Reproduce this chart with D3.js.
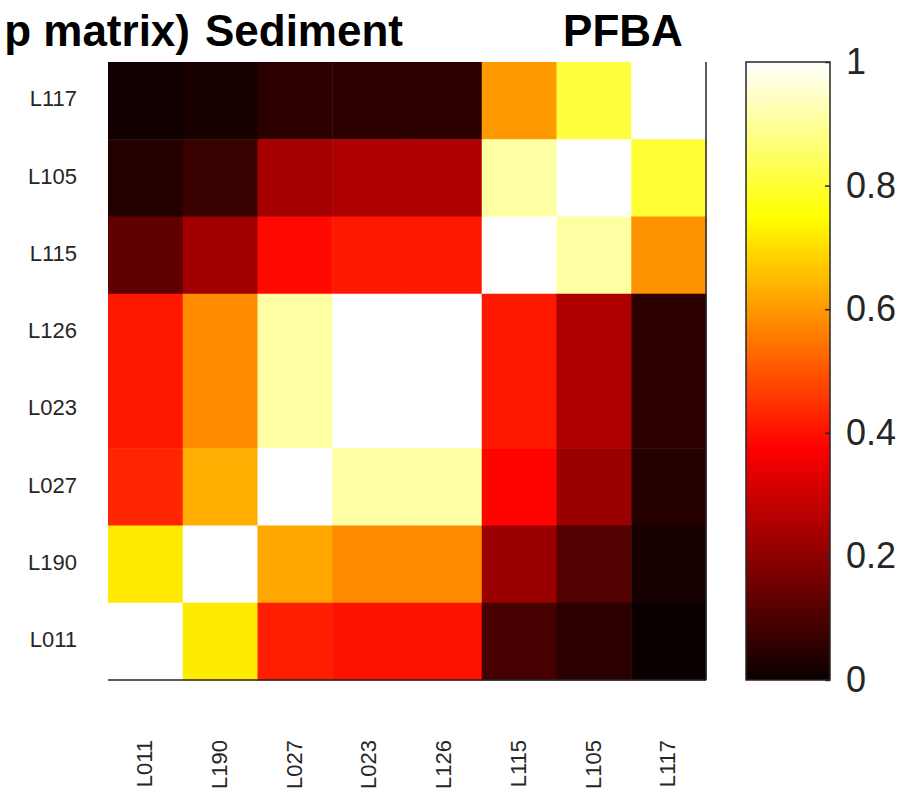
<!DOCTYPE html>
<html>
<head>
<meta charset="utf-8">
<script src="https://cdn.jsdelivr.net/npm/d3@7"></script>
<style>
  body { margin: 0; background: #fff; }
  svg { display: block; font-family: "Liberation Sans", Arial, sans-serif; }
</style>
</head>
<body>
<svg width="918" height="798"></svg>
<script>
// rows top to bottom, columns left to right
const rowLabels = ["L117", "L105", "L115", "L126", "L023", "L027", "L190", "L011"];
const colLabels = ["L011", "L190", "L027", "L023", "L126", "L115", "L105", "L117"];

const values = [
  [0.01, 0.02, 0.05, 0.05, 0.05, 0.60, 0.81, 1.00],
  [0.04, 0.07, 0.24, 0.25, 0.25, 0.91, 1.00, 0.80],
  [0.13, 0.23, 0.39, 0.41, 0.41, 1.00, 0.91, 0.59],
  [0.41, 0.58, 0.91, 1.00, 1.00, 0.41, 0.25, 0.05],
  [0.41, 0.58, 0.91, 1.00, 1.00, 0.41, 0.25, 0.05],
  [0.43, 0.63, 1.00, 0.91, 0.91, 0.38, 0.22, 0.04],
  [0.72, 1.00, 0.62, 0.58, 0.58, 0.22, 0.11, 0.02],
  [1.00, 0.72, 0.42, 0.40, 0.40, 0.09, 0.05, 0.00]
];

const cbTicks = [0, 0.2, 0.4, 0.6, 0.8, 1];

const svg = d3.select("svg");
const textColor = "#262626";

// matlab "hot" colormap, piecewise linear in rgb
const color = d3.scaleLinear()
    .domain([0, 0.375, 0.75, 1])
    .range(["#0b0000", "#ff0000", "#ffff00", "#ffffff"])
    .clamp(true);

const x = d3.scaleBand().domain(colLabels).range([108, 706]);
const y = d3.scaleBand().domain(rowLabels).range([62, 680]);

const cells = [];
values.forEach((row, i) => row.forEach((v, j) => {
    cells.push({ r: rowLabels[i], c: colLabels[j], v: v });
}));

svg.append("g")
    .selectAll("rect")
    .data(cells)
    .join("rect")
    .attr("x", d => x(d.c))
    .attr("y", d => y(d.r))
    .attr("width", x.bandwidth() + 0.5)
    .attr("height", y.bandwidth() + 0.5)
    .attr("fill", d => color(d.v));

// axis lines (bottom + right only)
svg.append("line")
    .attr("x1", 108).attr("x2", 706)
    .attr("y1", 680).attr("y2", 680)
    .attr("stroke", textColor).attr("stroke-width", 1.5);
svg.append("line")
    .attr("x1", 706).attr("x2", 706)
    .attr("y1", 62).attr("y2", 680)
    .attr("stroke", textColor).attr("stroke-width", 1.5);

// row labels
svg.append("g")
    .selectAll("text")
    .data(rowLabels)
    .join("text")
    .attr("x", 77)
    .attr("y", d => y(d) + y.bandwidth() / 2)
    .attr("text-anchor", "end")
    .attr("dominant-baseline", "middle")
    .attr("font-size", 22)
    .attr("fill", textColor)
    .text(d => d);

// column labels, rotated
svg.append("g")
    .selectAll("text")
    .data(colLabels)
    .join("text")
    .attr("transform", d => `translate(${x(d) + x.bandwidth() / 2 + 1},740) rotate(-90)`)
    .attr("text-anchor", "end")
    .attr("dominant-baseline", "middle")
    .attr("font-size", 22)
    .attr("fill", textColor)
    .text(d => d);

// titles (left one is cut off at the page edge in the original)
svg.append("text")
    .attr("x", 190).attr("y", 46)
    .attr("text-anchor", "end")
    .attr("font-size", 44)
    .attr("font-weight", "bold")
    .attr("fill", "#000")
    .text("p matrix)");
svg.append("text")
    .attr("x", 403).attr("y", 46)
    .attr("text-anchor", "end")
    .attr("font-size", 44)
    .attr("font-weight", "bold")
    .attr("fill", "#000")
    .text("Sediment");
svg.append("text")
    .attr("x", 623).attr("y", 46)
    .attr("text-anchor", "middle")
    .attr("font-size", 44)
    .attr("font-weight", "bold")
    .attr("fill", "#000")
    .text("PFBA");

// colorbar
const cb = { x0: 746, x1: 830 };
const cbScale = d3.scaleLinear().domain([0, 1]).range([680, 62]);

const grad = svg.append("defs").append("linearGradient")
    .attr("id", "hotgrad")
    .attr("x1", 0).attr("y1", 1).attr("x2", 0).attr("y2", 0);
grad.selectAll("stop")
    .data(d3.range(0, 1.0001, 0.025))
    .join("stop")
    .attr("offset", d => d)
    .attr("stop-color", d => color(d));

svg.append("rect")
    .attr("x", cb.x0).attr("y", cbScale(1))
    .attr("width", cb.x1 - cb.x0)
    .attr("height", cbScale(0) - cbScale(1))
    .attr("fill", "url(#hotgrad)")
    .attr("stroke", textColor)
    .attr("stroke-width", 1.5);

const cbAxis = svg.append("g")
    .attr("transform", `translate(${cb.x1},0)`)
    .call(d3.axisRight(cbScale)
        .tickValues(cbTicks)
        .tickFormat(d3.format("~g"))
        .tickSizeInner(-5)
        .tickSizeOuter(0)
        .tickPadding(16));
cbAxis.select(".domain").remove();
cbAxis.selectAll("line").attr("stroke", textColor).attr("stroke-width", 1.5);
cbAxis.selectAll("text")
    .attr("font-size", 36)
    .attr("font-family", "Liberation Sans, Arial, sans-serif")
    .attr("fill", textColor);
</script>
</body>
</html>
